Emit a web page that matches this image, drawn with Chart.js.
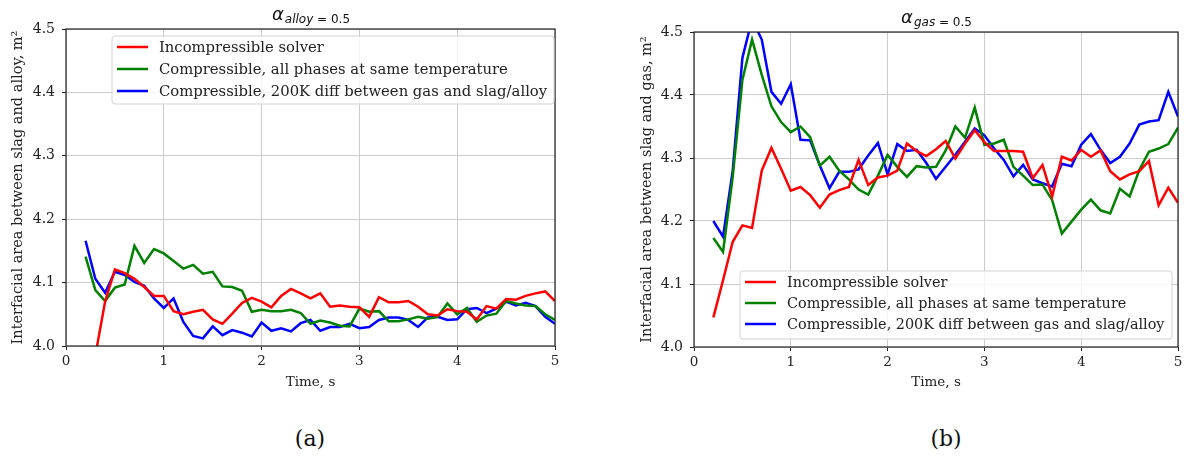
<!DOCTYPE html>
<html>
<head>
<meta charset="utf-8">
<title>Interfacial area vs time</title>
<script src="https://cdn.jsdelivr.net/npm/chart.js@4.4.1/dist/chart.umd.min.js"></script>
<style>
  body { margin: 0; background: #fff; width: 1186px; height: 464px; position: relative; overflow: hidden; }
  canvas { position: absolute; top: 0; }
  #alloyChart { left: 0; }
  #gasChart { left: 620px; }
  .caption { position: absolute; top: 424px; width: 100px; text-align: center;
             font: 22px "DejaVu Serif", serif; line-height: 30px; color: #111; }
</style>
</head>
<body>
<canvas id="alloyChart" width="600" height="400"></canvas>
<canvas id="gasChart" width="566" height="400"></canvas>
<div class="caption" style="left:260px">(a)</div>
<div class="caption" style="left:896px">(b)</div>

<script>
// time, s
const times = [0.2, 0.3, 0.4, 0.5, 0.6, 0.7, 0.8, 0.9, 1.0,
  1.1, 1.2, 1.3, 1.4, 1.5, 1.6, 1.7, 1.8, 1.9, 2.0,
  2.1, 2.2, 2.3, 2.4, 2.5, 2.6, 2.7, 2.8, 2.9, 3.0,
  3.1, 3.2, 3.3, 3.4, 3.5, 3.6, 3.7, 3.8, 3.9, 4.0,
  4.1, 4.2, 4.3, 4.4, 4.5, 4.6, 4.7, 4.8, 4.9, 5.0];

const seriesLabels = [
  'Incompressible solver',
  'Compressible, all phases at same temperature',
  'Compressible, 200K diff between gas and slag/alloy'
];

// (a) area between slag and alloy, m^2
const alloyIncompressible = [3.93, 3.985, 4.07, 4.121, 4.115, 4.106, 4.093, 4.079, 4.079,
  4.055, 4.050, 4.054, 4.057, 4.042, 4.035, 4.051, 4.068, 4.076, 4.070,
  4.061, 4.079, 4.090, 4.083, 4.075, 4.083, 4.062, 4.064, 4.062, 4.061,
  4.046, 4.077, 4.069, 4.069, 4.071, 4.062, 4.050, 4.048, 4.058, 4.055,
  4.054, 4.042, 4.063, 4.059, 4.074, 4.073, 4.079, 4.083, 4.086, 4.071];
const alloySameTemp = [4.141, 4.088, 4.071, 4.092, 4.097, 4.158, 4.131, 4.153, 4.146,
  4.134, 4.122, 4.128, 4.114, 4.117, 4.094, 4.093, 4.087, 4.054, 4.057,
  4.055, 4.055, 4.057, 4.052, 4.035, 4.040, 4.037, 4.032, 4.031, 4.059,
  4.054, 4.055, 4.039, 4.039, 4.042, 4.046, 4.043, 4.046, 4.067, 4.050,
  4.060, 4.038, 4.048, 4.051, 4.071, 4.067, 4.064, 4.063, 4.050, 4.041];
const alloy200K = [4.166, 4.106, 4.084, 4.117, 4.112, 4.101, 4.095, 4.075, 4.060,
  4.075, 4.038, 4.016, 4.012, 4.031, 4.017, 4.025, 4.021, 4.015, 4.037,
  4.024, 4.028, 4.023, 4.036, 4.041, 4.024, 4.030, 4.030, 4.035, 4.028,
  4.030, 4.041, 4.045, 4.045, 4.041, 4.030, 4.045, 4.046, 4.041, 4.042,
  4.058, 4.060, 4.052, 4.059, 4.070, 4.064, 4.068, 4.063, 4.046, 4.035];

// (b) area between slag and gas, m^2
const gasIncompressible = [4.047, 4.106, 4.167, 4.193, 4.189, 4.280, 4.316, 4.283, 4.248,
  4.254, 4.241, 4.221, 4.242, 4.249, 4.254, 4.297, 4.257, 4.269, 4.272,
  4.280, 4.323, 4.311, 4.303, 4.314, 4.327, 4.299, 4.323, 4.344, 4.325,
  4.311, 4.311, 4.311, 4.310, 4.268, 4.289, 4.239, 4.302, 4.296, 4.313,
  4.302, 4.312, 4.279, 4.266, 4.274, 4.279, 4.295, 4.225, 4.253, 4.229];
const gasSameTemp = [4.173, 4.151, 4.270, 4.424, 4.488, 4.432, 4.382, 4.357, 4.341,
  4.350, 4.333, 4.288, 4.302, 4.280, 4.266, 4.250, 4.242, 4.272, 4.305,
  4.286, 4.270, 4.287, 4.285, 4.286, 4.312, 4.350, 4.332, 4.380, 4.321,
  4.323, 4.329, 4.286, 4.272, 4.257, 4.258, 4.233, 4.180, 4.199, 4.218,
  4.234, 4.217, 4.212, 4.251, 4.239, 4.281, 4.310, 4.315, 4.322, 4.348];
const gas200K = [4.200, 4.175, 4.280, 4.459, 4.520, 4.488, 4.405, 4.386, 4.417,
  4.329, 4.328, 4.288, 4.252, 4.278, 4.278, 4.282, 4.304, 4.324, 4.274,
  4.322, 4.311, 4.313, 4.292, 4.267, 4.286, 4.305, 4.326, 4.347, 4.336,
  4.315, 4.297, 4.271, 4.289, 4.266, 4.260, 4.255, 4.291, 4.287, 4.321,
  4.338, 4.313, 4.292, 4.302, 4.323, 4.353, 4.358, 4.360, 4.405, 4.366];

const lineColors = ['#ff0000', '#008000', '#0000ff'];
const serif = '"DejaVu Serif", serif';

// subscripted alpha title above the axes
const titlePlugin = {
  id: 'alphaTitle',
  afterDraw(chart, args, opts) {
    const { ctx, chartArea } = chart;
    const bigFont = 'italic 18px "DejaVu Sans"';
    const subItalic = 'italic 12px "DejaVu Sans"';
    const subPlain = '12px "DejaVu Sans"';
    ctx.save();
    ctx.fillStyle = '#111';
    ctx.textBaseline = 'alphabetic';
    ctx.font = bigFont; const wA = ctx.measureText('α').width;
    ctx.font = subItalic; const wS = ctx.measureText(opts.phase).width;
    ctx.font = subPlain; const wE = ctx.measureText(' = 0.5').width;
    let x = (chartArea.left + chartArea.right) / 2 - (wA + wS + wE) / 2;
    const y = chartArea.top - 9;
    ctx.font = bigFont; ctx.fillText('α', x, y); x += wA + 1;
    ctx.font = subItalic; ctx.fillText(opts.phase, x, y + 3); x += wS;
    ctx.font = subPlain; ctx.fillText(' = 0.5', x, y + 3);
    ctx.restore();
  }
};

// axes frame on all four sides
const framePlugin = {
  id: 'frame',
  afterDatasetsDraw(chart) {
    const { ctx, chartArea: a } = chart;
    ctx.save();
    ctx.strokeStyle = '#222';
    ctx.lineWidth = 1.2;
    ctx.strokeRect(a.left, a.top, a.right - a.left, a.bottom - a.top);
    ctx.restore();
  }
};

// matplotlib-like legend box
const boxLegendPlugin = {
  id: 'boxLegend',
  afterDatasetsDraw(chart, args, opts) {
    const { ctx } = chart;
    const { x, y, w, h, rowGap, size } = opts;
    ctx.save();
    ctx.beginPath();
    ctx.roundRect(x, y, w, h, 3);
    ctx.fillStyle = 'rgba(255,255,255,0.8)';
    ctx.fill();
    ctx.strokeStyle = '#d4d4d4';
    ctx.lineWidth = 1;
    ctx.stroke();
    ctx.font = size + 'px ' + serif;
    ctx.textBaseline = 'middle';
    chart.data.datasets.forEach((ds, i) => {
      const cy = y + 11 + i * rowGap;
      ctx.strokeStyle = ds.borderColor;
      ctx.lineWidth = 2.5;
      ctx.beginPath();
      ctx.moveTo(x + 5, cy);
      ctx.lineTo(x + 36, cy);
      ctx.stroke();
      ctx.fillStyle = '#222';
      ctx.fillText(ds.label, x + 47, cy + 1);
    });
    ctx.restore();
  }
};

function makeChart(canvasId, values, yTitle, phase, layout, legendBox) {
  const datasets = values.map((vals, i) => ({
    label: seriesLabels[i],
    data: times.map((t, j) => ({ x: t, y: vals[j] })),
    borderColor: lineColors[i],
    borderWidth: 2.5,
    pointRadius: 0,
    tension: 0,
    clip: 0
  }));

  return new Chart(document.getElementById(canvasId), {
    type: 'line',
    data: { datasets },
    options: {
      responsive: false,
      animation: false,
      layout: { padding: { top: layout.top, right: layout.right } },
      scales: {
        x: {
          type: 'linear', min: 0, max: 5,
          afterFit: (s) => { s.height = layout.xHeight; },
          ticks: { stepSize: 1, padding: 3, color: '#222', font: { family: serif, size: 13.5 } },
          grid: { color: '#cccccc', lineWidth: 1, tickLength: 4, tickColor: '#222' },
          border: { display: false },
          title: { display: true, text: 'Time, s', color: '#222', padding: { top: 0, bottom: 9 },
                   font: { family: serif, size: 13.5 } }
        },
        y: {
          min: 4.0, max: 4.5,
          afterFit: (s) => { s.width = layout.yWidth; },
          ticks: { stepSize: 0.1, padding: 7, color: '#222', font: { family: serif, size: 14 },
                   callback: (v) => v.toFixed(1) },
          grid: { color: '#cccccc', lineWidth: 1, tickLength: 4, tickColor: '#222' },
          border: { display: false },
          title: { display: true, text: yTitle, color: '#222', padding: { top: layout.yTitlePad, bottom: 0 },
                   font: { family: serif, size: 14.5 } }
        }
      },
      plugins: {
        legend: { display: false },
        tooltip: { enabled: false },
        alphaTitle: { phase },
        boxLegend: legendBox
      }
    },
    plugins: [titlePlugin, framePlugin, boxLegendPlugin]
  });
}

makeChart('alloyChart', [alloyIncompressible, alloySameTemp, alloy200K],
  'Interfacial area between slag and alloy, m²', 'alloy',
  { top: 29, right: 45, xHeight: 54, yWidth: 66, yTitlePad: 10 },
  { x: 112, y: 36, w: 442, h: 68, rowGap: 22, size: 14.8 });

makeChart('gasChart', [gasIncompressible, gasSameTemp, gas200K],
  'Interfacial area between slag and gas, m²', 'gas',
  { top: 32, right: 8, xHeight: 53, yWidth: 74, yTitlePad: 19 },
  { x: 120, y: 271, w: 432, h: 68, rowGap: 21, size: 14.4 });
</script>
</body>
</html>
